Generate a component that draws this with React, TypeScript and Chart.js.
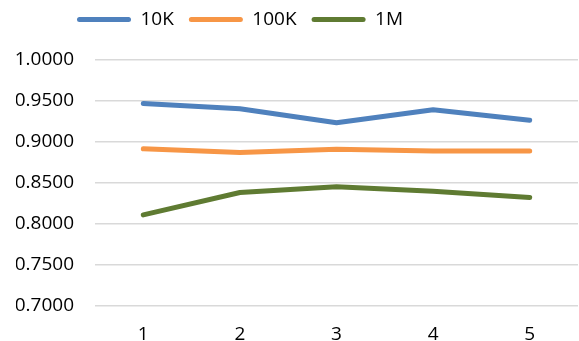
import React, { useEffect, useRef } from "react";
import { Chart, registerables } from "chart.js";

Chart.register(...registerables);

const categories = ["1", "2", "3", "4", "5"];
const series10K = [0.947, 0.9405, 0.9235, 0.9393, 0.9265];
const series100K = [0.8917, 0.8872, 0.8913, 0.889, 0.889];
const series1M = [0.8111, 0.8384, 0.8455, 0.84, 0.8323];
const seriesNames = ["10K", "100K", "1M"];
const yMin = 0.7;
const yMax = 1.0;
const yStep = 0.05;

const FONT = "'Open Sans', 'Liberation Sans', sans-serif";

const legendShift = {
  id: "legendShift",
  afterLayout(chart: any) {
    const l = chart.legend;
    if (l) {
      l.left += 46;
      l.right += 46;
      l.top -= 5;
      l.bottom -= 5;
    }
  },
};

export default function App() {
  const ref = useRef<HTMLCanvasElement | null>(null);
  useEffect(() => {
    if (!ref.current) return;
    const mk = (label: string, data: number[], color: string) => ({
      label,
      data,
      borderColor: color,
      backgroundColor: color,
      borderWidth: 5,
      borderCapStyle: "round" as const,
      borderJoinStyle: "round" as const,
      pointRadius: 0,
      pointHoverRadius: 0,
      tension: 0,
      fill: false,
    });
    const chart = new Chart(ref.current, {
      type: "line",
      data: {
        labels: categories,
        datasets: [
          mk(seriesNames[0], series10K, "#4F81BD"),
          mk(seriesNames[1], series100K, "#F79646"),
          mk(seriesNames[2], series1M, "#5F7B32"),
        ],
      },
      options: {
        animation: false,
        responsive: false,
        maintainAspectRatio: false,
        layout: { padding: { left: 16, right: 1, top: 0, bottom: 0 } },
        plugins: {
          tooltip: { enabled: false },
          title: {
            display: true,
            text: "",
            weight: 500,
            padding: 0,
            font: { size: 16, lineHeight: 1 },
          } as any,
          legend: {
            display: true,
            position: "top",
            align: "start",
            labels: {
              boxWidth: 54,
              boxHeight: 5,
              useBorderRadius: true,
              borderRadius: 2.5,
              padding: 15,
              color: "#000000",
              font: { family: FONT, size: 19 },
              generateLabels: (c: any) =>
                Chart.defaults.plugins.legend.labels
                  .generateLabels(c)
                  .map((it: any) => ({ ...it, lineWidth: 0 })),
            },
          },
        },
        scales: {
          x: {
            type: "category",
            offset: true,
            grid: { display: false, drawTicks: false },
            border: { display: false },
            ticks: {
              color: "#000000",
              padding: 20,
              font: { family: FONT, size: 19, lineHeight: 0.9 },
              maxRotation: 0,
            },
            afterFit: (s: any) => {
              s.height = 35;
            },
          },
          y: {
            min: yMin,
            max: yMax,
            grid: { color: "#D9D9D9", lineWidth: 1.5, drawTicks: false },
            border: { display: false },
            ticks: {
              stepSize: yStep,
              padding: 21,
              color: "#000000",
              font: { family: FONT, size: 19 },
              callback: (v: any) => Number(v).toFixed(4),
            },
            afterFit: (s: any) => {
              s.width = 79;
            },
          },
        },
      },
      plugins: [legendShift],
    });
    return () => chart.destroy();
  }, []);
  return (
    <div style={{ position: "fixed", left: 0, top: 0, width: 579, height: 341, background: "#fff" }}>
      <canvas ref={ref} width={579} height={341} style={{ display: "block" }} />
    </div>
  );
}
